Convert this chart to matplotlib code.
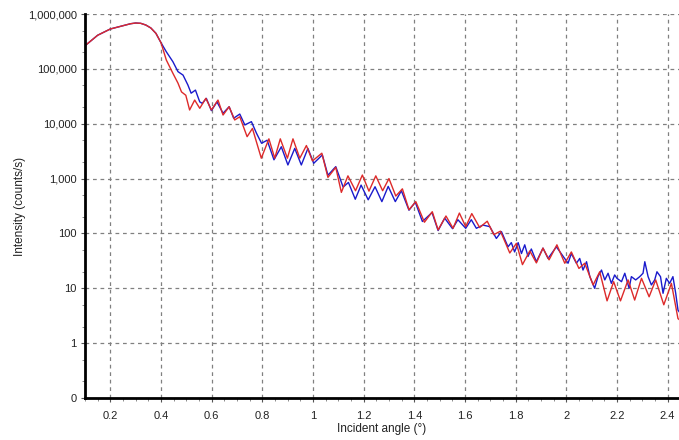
import numpy as np
import matplotlib
matplotlib.use("Agg")
import matplotlib.pyplot as plt
from matplotlib.ticker import FixedLocator, FixedFormatter, MultipleLocator, LogLocator, NullFormatter

# measured curve (blue): incident angle (deg), intensity (counts/s)
meas_angle = [0.100, 0.150, 0.200, 0.250, 0.280, 0.300, 0.320, 0.340, 0.360, 0.380,
              0.400, 0.421, 0.447, 0.467, 0.487, 0.506, 0.519, 0.536, 0.553, 0.563,
              0.579, 0.599, 0.621, 0.645, 0.669, 0.687, 0.711, 0.731, 0.757, 0.777,
              0.797, 0.819, 0.846, 0.875, 0.901, 0.928, 0.954, 0.980, 1.003, 1.037,
              1.059, 1.090, 1.119, 1.140, 1.167, 1.190, 1.218, 1.245, 1.272, 1.297,
              1.325, 1.349, 1.379, 1.404, 1.432, 1.470, 1.494, 1.520, 1.551, 1.572,
              1.603, 1.625, 1.645, 1.671, 1.698, 1.724, 1.744, 1.770, 1.783, 1.796,
              1.810, 1.823, 1.836, 1.849, 1.862, 1.882, 1.908, 1.928, 1.961, 1.988,
              2.007, 2.020, 2.040, 2.053, 2.066, 2.080, 2.093, 2.112, 2.125, 2.139,
              2.152, 2.165, 2.178, 2.191, 2.200, 2.218, 2.231, 2.248, 2.257, 2.274,
              2.290, 2.303, 2.310, 2.323, 2.336, 2.349, 2.358, 2.372, 2.382, 2.395,
              2.408, 2.421, 2.432, 2.441, 2.450]
meas_int = [264000, 410000, 533000, 612000, 665000, 685000, 676000, 630000, 556000, 444000,
            300000, 205000, 135000, 89000, 77000, 51000, 36000, 41000, 25000, 23500,
            29000, 17300, 25000, 15500, 20400, 12600, 15000, 9500, 10900, 6700,
            4400, 5000, 2200, 3800, 1770, 3550, 1770, 3550, 1900, 2700,
            1150, 1650, 700, 850, 420, 760, 410, 710, 380, 720,
            380, 600, 265, 370, 165, 240, 113, 190, 122, 178,
            124, 178, 124, 142, 133, 81, 108, 57, 68, 46,
            68, 43, 62, 38, 52, 30.5, 54, 35, 57, 38,
            28.6, 43, 28.6, 35, 21.5, 30.5, 16.3, 10, 16.3, 21.5,
            14.2, 18.8, 12.3, 17.5, 15.2, 13.2, 18.8, 10, 16.3, 14.2,
            16.3, 18.8, 30.5, 16.3, 11.5, 14.2, 20, 16.3, 8.1, 15.2,
            12.3, 16.3, 8.1, 4.0, 3.5]

# simulated curve (red)
sim_angle = [0.100, 0.150, 0.200, 0.250, 0.280, 0.300, 0.320, 0.340, 0.360, 0.380,
             0.400, 0.421, 0.447, 0.467, 0.481, 0.498, 0.513, 0.533, 0.553, 0.577,
             0.599, 0.625, 0.645, 0.669, 0.691, 0.711, 0.740, 0.761, 0.796, 0.826,
             0.849, 0.871, 0.899, 0.921, 0.948, 0.974, 0.998, 1.035, 1.059, 1.090,
             1.112, 1.138, 1.168, 1.195, 1.221, 1.248, 1.275, 1.300, 1.327, 1.353,
             1.379, 1.406, 1.440, 1.471, 1.494, 1.525, 1.553, 1.578, 1.603, 1.627,
             1.658, 1.688, 1.714, 1.740, 1.777, 1.803, 1.827, 1.856, 1.882, 1.908,
             1.932, 1.963, 1.994, 2.020, 2.050, 2.073, 2.106, 2.132, 2.161, 2.187,
             2.214, 2.244, 2.270, 2.297, 2.327, 2.353, 2.385, 2.415, 2.441, 2.450]
sim_int = [264000, 410000, 533000, 612000, 665000, 685000, 676000, 630000, 556000, 444000,
           300000, 145000, 83000, 55000, 38000, 33000, 17800, 27000, 19100, 29000,
           17800, 27000, 14400, 20400, 11700, 13400, 5800, 8200, 2350, 5300,
           2350, 5300, 2350, 5300, 2350, 4000, 2100, 2900, 1050, 1600,
           560, 1120, 600, 1160, 590, 1120, 600, 1000, 480, 650,
           270, 380, 160, 249, 116, 208, 124, 235, 133, 230,
           128, 167, 95, 110, 44, 66, 27, 48, 29, 54,
           33, 62, 28.6, 46, 23, 28.6, 11.5, 20, 5.9, 13.2,
           5.9, 14.2, 6.1, 15.2, 7.0, 14.2, 5.0, 12.3, 2.8, 2.6]

y_ticks = [0.1, 1, 10, 100, 1000, 10000, 100000, 1000000]
y_labels = ["0", "1", "10", "100", "1,000", "10,000", "100,000", "1,000,000"]
x_ticks = [0.2, 0.4, 0.6, 0.8, 1.0, 1.2, 1.4, 1.6, 1.8, 2.0, 2.2, 2.4]
x_labels = ["0.2", "0.4", "0.6", "0.8", "1", "1.2", "1.4", "1.6", "1.8", "2", "2.2", "2.4"]

plt.rcParams["font.family"] = ["Liberation Sans", "DejaVu Sans"]

fig = plt.figure(figsize=(6.79, 4.40), dpi=100)
ax = fig.add_axes([85 / 679, 42 / 440, 594 / 679, 384 / 440])

ax.plot(meas_angle, meas_int, color="#1a1acc", lw=1.0, zorder=3)
ax.plot(sim_angle, sim_int, color="#dd2a2a", lw=1.0, zorder=4)

ax.set_yscale("log")
ax.set_xlim(0.1, 2.445)
ax.set_ylim(0.1, 1e6)

ax.yaxis.set_major_locator(FixedLocator(y_ticks))
ax.yaxis.set_major_formatter(FixedFormatter(y_labels))
ax.yaxis.set_minor_locator(LogLocator(base=10, subs=(2.0, 5.0)))
ax.yaxis.set_minor_formatter(NullFormatter())
ax.xaxis.set_major_locator(FixedLocator(x_ticks))
ax.xaxis.set_major_formatter(FixedFormatter(x_labels))
ax.xaxis.set_minor_locator(MultipleLocator(0.05))

ax.tick_params(axis="both", which="major", labelsize=8, length=3, width=0.8,
               color="#555555", labelcolor="#222222")
ax.tick_params(axis="both", which="minor", length=2, width=0.6, color="#777777")
ax.tick_params(axis="x", pad=6)
ax.tick_params(axis="y", pad=3)

ax.grid(True, which="major", color="#808080", linestyle=(0, (3, 3)), linewidth=0.9)

for s in ["top", "right"]:
    ax.spines[s].set_visible(False)
for s in ["left", "bottom"]:
    ax.spines[s].set_linewidth(2.0)
    ax.spines[s].set_color("black")
    ax.spines[s].set_zorder(5)

ax.set_xlabel("Incident angle (°)", fontsize=8.5, color="#222222", labelpad=2)
ax.set_ylabel("Intensity (counts/s)", fontsize=8.5, color="#222222", labelpad=1)

fig.savefig("out.png", dpi=100)
